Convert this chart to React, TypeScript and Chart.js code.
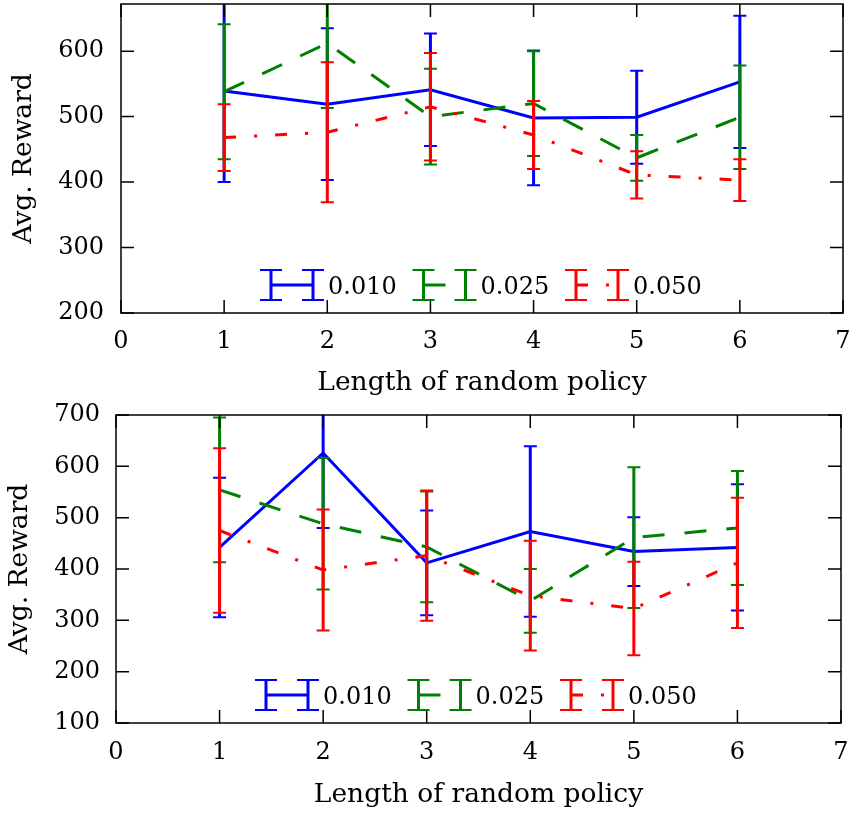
import React, { useEffect, useRef } from 'react';
import { Chart, registerables } from 'chart.js';
Chart.register(...registerables);

// ---------- data ----------
const xValues = [1, 2, 3, 4, 5, 6];
const seriesLabels = ['0.010', '0.025', '0.050'];
const xTitle = 'Length of random policy';
const yTitle = 'Avg. Reward';

// top panel
const topMean010 = [539, 519, 541, 498, 499, 553];
const topErr010 = [139, 116, 86, 103, 71, 101];
const topMean025 = [538, 612, 500, 520, 437, 499];
const topErr025 = [103, 99, 73, 80, 35, 79];
const topMean050 = [468, 476, 515, 472, 411, 403];
const topErr050 = [51, 107, 82, 52, 36, 32];

// bottom panel
const botMean010 = [442, 626, 412, 473, 434, 442];
const botErr010 = [136, 146, 102, 166, 67, 123];
const botMean025 = [554, 488, 443, 338, 461, 480];
const botErr025 = [141, 128, 108, 62, 137, 111];
const botMean050 = [475, 398, 426, 348, 323, 412];
const botErr050 = [160, 118, 127, 107, 91, 127];

// ---------- styles ----------
const seriesColors = ['#0000ff', '#008000', '#ff0000'];
const seriesDashes: number[][] = [[], [22, 20], [12, 18, 3, 18]];
const FONT_FAMILY = "'DejaVu Serif', serif";
const FONT_SIZE = 24;
const TITLE_SIZE = 26.5;
const LH = FONT_SIZE * 1.2;
const TLH = TITLE_SIZE * 1.2;

type Geom = {
  canvasTop: number; canvasHeight: number;
  plotLeft: number; plotRight: number; plotTop: number; plotBottom: number;
  xTickCenter: number; xTitleCenter: number; yTitleCenter: number; yLabelRight: number;
  yMin: number; yMax: number;
};

function Panel({ means, errs, g }: { means: number[][]; errs: number[][]; g: Geom }) {
  const ref = useRef<HTMLCanvasElement>(null);
  useEffect(() => {
    const canvas = ref.current!;
    const font = { family: FONT_FAMILY, size: FONT_SIZE, lineHeight: 1.2 };
    const tfont = { family: FONT_FAMILY, size: TITLE_SIZE, lineHeight: 1.2 };
    const canvasBottom = g.canvasTop + g.canvasHeight;
    const datasets = means.map((m, k) => ({
      label: seriesLabels[k],
      data: xValues.map((x, j) => ({ x, y: m[j] })),
      borderColor: seriesColors[k],
      backgroundColor: seriesColors[k],
      borderWidth: 3,
      borderDash: seriesDashes[k],
      pointRadius: 0,
      tension: 0,
      fill: false,
      order: 3 - k,
    }));

    const plugin = {
      id: 'errbarsFrameLegend',
      beforeDatasetDraw(chart: any, args: any) {
        const k = args.index;
        const ctx = chart.ctx;
        const a = chart.chartArea;
        const xs = chart.scales.x, ys = chart.scales.y;
        ctx.save();
        ctx.beginPath();
        ctx.rect(a.left, a.top, a.right - a.left, a.bottom - a.top);
        ctx.clip();
        ctx.strokeStyle = seriesColors[k];
        ctx.setLineDash([]);
        xValues.forEach((xv, j) => {
          const px = xs.getPixelForValue(xv);
          const hi = ys.getPixelForValue(means[k][j] + errs[k][j]);
          const lo = ys.getPixelForValue(means[k][j] - errs[k][j]);
          ctx.lineWidth = 3;
          ctx.beginPath(); ctx.moveTo(px, hi); ctx.lineTo(px, lo); ctx.stroke();
          ctx.lineWidth = 2;
          ctx.beginPath();
          ctx.moveTo(px - 6.5, hi); ctx.lineTo(px + 6.5, hi);
          ctx.moveTo(px - 6.5, lo); ctx.lineTo(px + 6.5, lo);
          ctx.stroke();
        });
        ctx.restore();
      },
      afterDraw(chart: any) {
        const ctx = chart.ctx;
        const a = chart.chartArea;
        const xs = chart.scales.x, ys = chart.scales.y;
        ctx.save();
        ctx.setLineDash([]);
        ctx.strokeStyle = '#000';
        ctx.lineWidth = 1.5;
        ctx.strokeRect(a.left, a.top, a.right - a.left, a.bottom - a.top);
        const TL = 13;
        ctx.beginPath();
        xs.ticks.forEach((t: any) => {
          const px = xs.getPixelForValue(t.value);
          ctx.moveTo(px, a.bottom); ctx.lineTo(px, a.bottom - TL);
          ctx.moveTo(px, a.top); ctx.lineTo(px, a.top + TL);
        });
        ys.ticks.forEach((t: any) => {
          const py = ys.getPixelForValue(t.value);
          ctx.moveTo(a.left, py); ctx.lineTo(a.left + TL, py);
          ctx.moveTo(a.right, py); ctx.lineTo(a.right - TL, py);
        });
        ctx.stroke();

        // legend
        const ly = a.bottom - 28;
        seriesLabels.forEach((lab, k) => {
          const c = a.left + 150 + 152.5 * k;
          ctx.strokeStyle = seriesColors[k];
          ctx.setLineDash(seriesDashes[k]);
          ctx.lineWidth = 3;
          ctx.beginPath(); ctx.moveTo(c, ly); ctx.lineTo(c + 42, ly); ctx.stroke();
          ctx.setLineDash([]);
          [c, c + 42].forEach((bx) => {
            ctx.lineWidth = 3;
            ctx.beginPath(); ctx.moveTo(bx, ly - 15); ctx.lineTo(bx, ly + 15); ctx.stroke();
            ctx.lineWidth = 2;
            ctx.beginPath();
            ctx.moveTo(bx - 11, ly - 15); ctx.lineTo(bx + 11, ly - 15);
            ctx.moveTo(bx - 11, ly + 15); ctx.lineTo(bx + 11, ly + 15);
            ctx.stroke();
          });
          ctx.fillStyle = '#000';
          ctx.font = `${FONT_SIZE}px ${FONT_FAMILY}`;
          ctx.textAlign = 'left';
          ctx.textBaseline = 'middle';
          ctx.fillText(lab, c + 57, ly + 3);
        });
        ctx.restore();
      },
    };

    const chart = new Chart(canvas, {
      type: 'line',
      data: { datasets: datasets as any },
      options: {
        animation: false,
        responsive: false,
        events: [],
        layout: { padding: { left: 0, top: g.plotTop - g.canvasTop, right: 854 - g.plotRight, bottom: 0 } },
        plugins: { legend: { display: false }, tooltip: { enabled: false } },
        scales: {
          x: {
            type: 'linear', min: 0, max: 7,
            grid: { display: false, drawTicks: false },
            border: { display: false },
            ticks: { stepSize: 1, font, color: '#000', padding: g.xTickCenter - g.plotBottom - LH / 2 + 2, maxRotation: 0, autoSkip: false },
            title: { display: true, text: xTitle, font: tfont, color: '#000', padding: { top: 0, bottom: canvasBottom - g.xTitleCenter - TLH / 2 } },
            afterFit: (s: any) => { s.height = canvasBottom - g.plotBottom; s.paddingLeft = 0; s.paddingRight = 0; },
          },
          y: {
            type: 'linear', min: g.yMin, max: g.yMax,
            grid: { display: false, drawTicks: false },
            border: { display: false },
            ticks: { stepSize: 100, includeBounds: false, font, color: '#000', padding: g.plotLeft - g.yLabelRight },
            title: { display: true, text: yTitle, font: tfont, color: '#000', padding: { top: g.yTitleCenter - TLH / 2, bottom: 0 } },
            afterFit: (s: any) => { s.width = g.plotLeft; s.paddingTop = 0; s.paddingBottom = 0; },
          },
        },
      } as any,
      plugins: [plugin],
    });
    return () => chart.destroy();
  }, []);
  return (
    <canvas
      ref={ref}
      width={854}
      height={g.canvasHeight}
      style={{ position: 'absolute', left: 0, top: g.canvasTop, width: 854, height: g.canvasHeight }}
    />
  );
}

const topGeom: Geom = {
  canvasTop: 0, canvasHeight: 400,
  plotLeft: 121, plotRight: 843, plotTop: 4, plotBottom: 313,
  xTickCenter: 340, xTitleCenter: 383, yTitleCenter: 24, yLabelRight: 104,
  yMin: 200, yMax: 672,
};
const botGeom: Geom = {
  canvasTop: 390, canvasHeight: 423,
  plotLeft: 116, plotRight: 841, plotTop: 415, plotBottom: 723,
  xTickCenter: 751, xTitleCenter: 795, yTitleCenter: 20, yLabelRight: 100,
  yMin: 100, yMax: 700,
};

export default function App() {
  return (
    <div style={{ position: 'absolute', left: 0, top: 0, width: 854, height: 813, background: '#fff' }}>
      <Panel means={[topMean010, topMean025, topMean050]} errs={[topErr010, topErr025, topErr050]} g={topGeom} />
      <Panel means={[botMean010, botMean025, botMean050]} errs={[botErr010, botErr025, botErr050]} g={botGeom} />
    </div>
  );
}
